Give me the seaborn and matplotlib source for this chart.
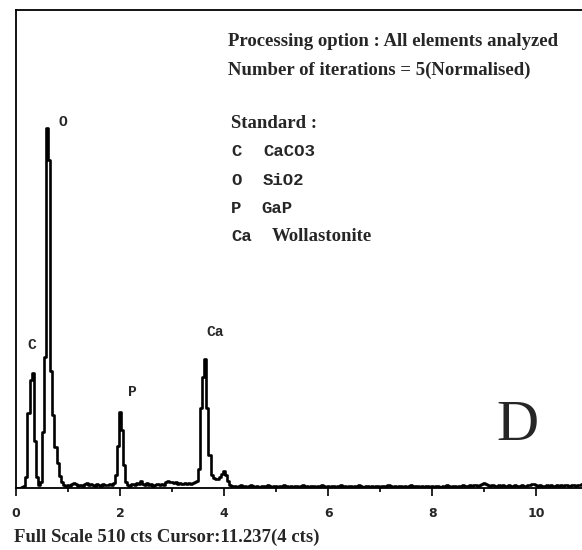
import numpy as np
import matplotlib
matplotlib.use("Agg")
import matplotlib.pyplot as plt
import seaborn as sns

# EDS spectrum, one value per 0.04 keV channel (counts)
KEV_PER_CHANNEL = 0.04
counts = [
    # 0.00 - 0.96 keV  (C and O peaks)
    0, 0, 0, 1, 2, 12, 80, 115, 123, 50, 12, 3, 6, 60, 140, 384, 350, 125, 78, 44, 27, 13, 6, 3, 2,
    # 1.00 - 1.96
    3, 2, 4, 5, 4, 2, 3, 2, 4, 5, 3, 4, 3, 2, 4, 3, 2, 4, 3, 3, 4, 3, 5, 14, 45,
    # 2.00 - 2.96  (P peak)
    81, 62, 25, 6, 3, 2, 4, 3, 5, 4, 8, 4, 3, 5, 3, 4, 2, 3, 4, 3, 4, 3, 6, 7, 6,
    # 3.00 - 3.96  (Ca K-alpha)
    6, 5, 6, 4, 5, 4, 5, 4, 5, 4, 5, 6, 8, 20, 85, 118, 138, 85, 35, 14, 11, 10, 10, 12, 15,
    # 4.00 - 4.96  (Ca K-beta)
    18, 14, 7, 3, 2, 2, 1, 2, 3, 1, 2, 1, 2, 3, 2, 1, 2, 1, 2, 2, 1, 3, 2, 1, 2,
    # 5.00 - 5.96
    2, 1, 2, 1, 3, 2, 1, 2, 1, 2, 2, 1, 2, 3, 1, 2, 1, 2, 2, 1, 2, 1, 3, 2, 1,
    # 6.00 - 6.96
    2, 1, 2, 2, 1, 2, 3, 1, 2, 1, 2, 2, 1, 2, 1, 3, 2, 1, 2, 2, 1, 2, 1, 2, 2,
    # 7.00 - 7.96
    1, 2, 2, 1, 3, 2, 1, 2, 1, 2, 2, 1, 2, 1, 2, 3, 1, 2, 2, 1, 2, 1, 2, 2, 1,
    # 8.00 - 8.96
    2, 1, 2, 2, 1, 2, 1, 3, 2, 1, 2, 2, 1, 2, 2, 3, 2, 2, 3, 2, 3, 3, 2, 3, 4,
    # 9.00 - 9.96
    5, 4, 3, 2, 3, 2, 2, 3, 2, 3, 2, 2, 3, 2, 2, 3, 2, 2, 3, 2, 2, 3, 3, 4, 4,
    # 10.00 - 10.88
    3, 2, 3, 2, 2, 3, 2, 3, 2, 2, 3, 2, 3, 2, 3, 3, 2, 3, 3, 2, 3, 3, 4,
]
energy = np.arange(len(counts)) * KEV_PER_CHANNEL

FULL_SCALE = 510
X_MAX = 10.88

# peak labels (element, keV, counts)
peak_names = ["O", "C", "P", "Ca"]
peak_x = [0.90, 0.31, 2.23, 3.83]
peak_y = [390, 153, 102, 166]

info_lines = ["Processing option : All elements analyzed",
              "Number of iterations = 5(Normalised)"]
std_elements = ["C", "O", "P", "Ca"]
std_compounds = ["CaCO3", "SiO2", "GaP", "Wollastonite"]

sns.set_style("white")
plt.rcParams["font.family"] = ["Liberation Serif", "DejaVu Serif"]

W, H = 582, 550
fig = plt.figure(figsize=(W / 100, H / 100), dpi=100)
ax = fig.add_axes([16 / W, 1 - 488 / H, 1 - 16 / W, 478 / H])

sns.lineplot(x=energy, y=counts, ax=ax, color="black", linewidth=1.9,
             drawstyle="steps-mid", estimator=None, sort=False)

ax.set_xlim(0, X_MAX)
ax.set_ylim(0, FULL_SCALE)
ax.set_yticks([])
ax.set_xticks(np.arange(0, 11, 2))
ax.set_xticks(np.arange(1, 11, 2), minor=True)
ax.tick_params(axis="x", which="major", direction="out", length=6, width=1.4,
               labelsize=9, pad=8, bottom=True)
ax.tick_params(axis="x", which="minor", direction="out", length=3, width=1.4,
               bottom=True)
for lab in ax.get_xticklabels():
    lab.set_fontfamily("DejaVu Sans")
    lab.set_fontweight("bold")
ax.spines["right"].set_visible(False)
for side in ["left", "top", "bottom"]:
    ax.spines[side].set_linewidth(1.3)
    ax.spines[side].set_color("black")
ax.set_xlabel("")
ax.set_ylabel("")

for name, px, py in zip(peak_names, peak_x, peak_y):
    ax.text(px, py, name, fontsize=10.5, fontweight="bold",
            family="Liberation Mono", ha="center", va="center")


def fig_text(x, y, s, **kw):
    fig.text(x / W, 1 - y / H, s, va="center", ha="left", **kw)


fig_text(228, 41, info_lines[0], fontsize=13.5, fontweight="bold")
fig_text(228, 70, info_lines[1], fontsize=13.5, fontweight="bold")
fig_text(231, 123, "Standard :", fontsize=13.5, fontweight="bold")
std_x = [263, 263, 261, 272]
for i, (el, comp) in enumerate(zip(std_elements, std_compounds)):
    yy = 152 + i * 28.3
    fig_text(231, yy, el, fontsize=12.5, fontweight="bold", family="Liberation Mono")
    if comp == "Wollastonite":
        fig_text(std_x[i], yy, comp, fontsize=13.5, fontweight="bold")
    else:
        fig_text(std_x[i], yy, comp, fontsize=12.5, fontweight="bold",
                 family="Liberation Mono")

fig.text(517 / W, 1 - 426 / H, "D", fontsize=42, ha="center", va="center")
fig_text(14, 537, "Full Scale 510 cts Cursor:11.237(4 cts)", fontsize=13.5,
         fontweight="bold")

fig.savefig("out.png", dpi=100)
